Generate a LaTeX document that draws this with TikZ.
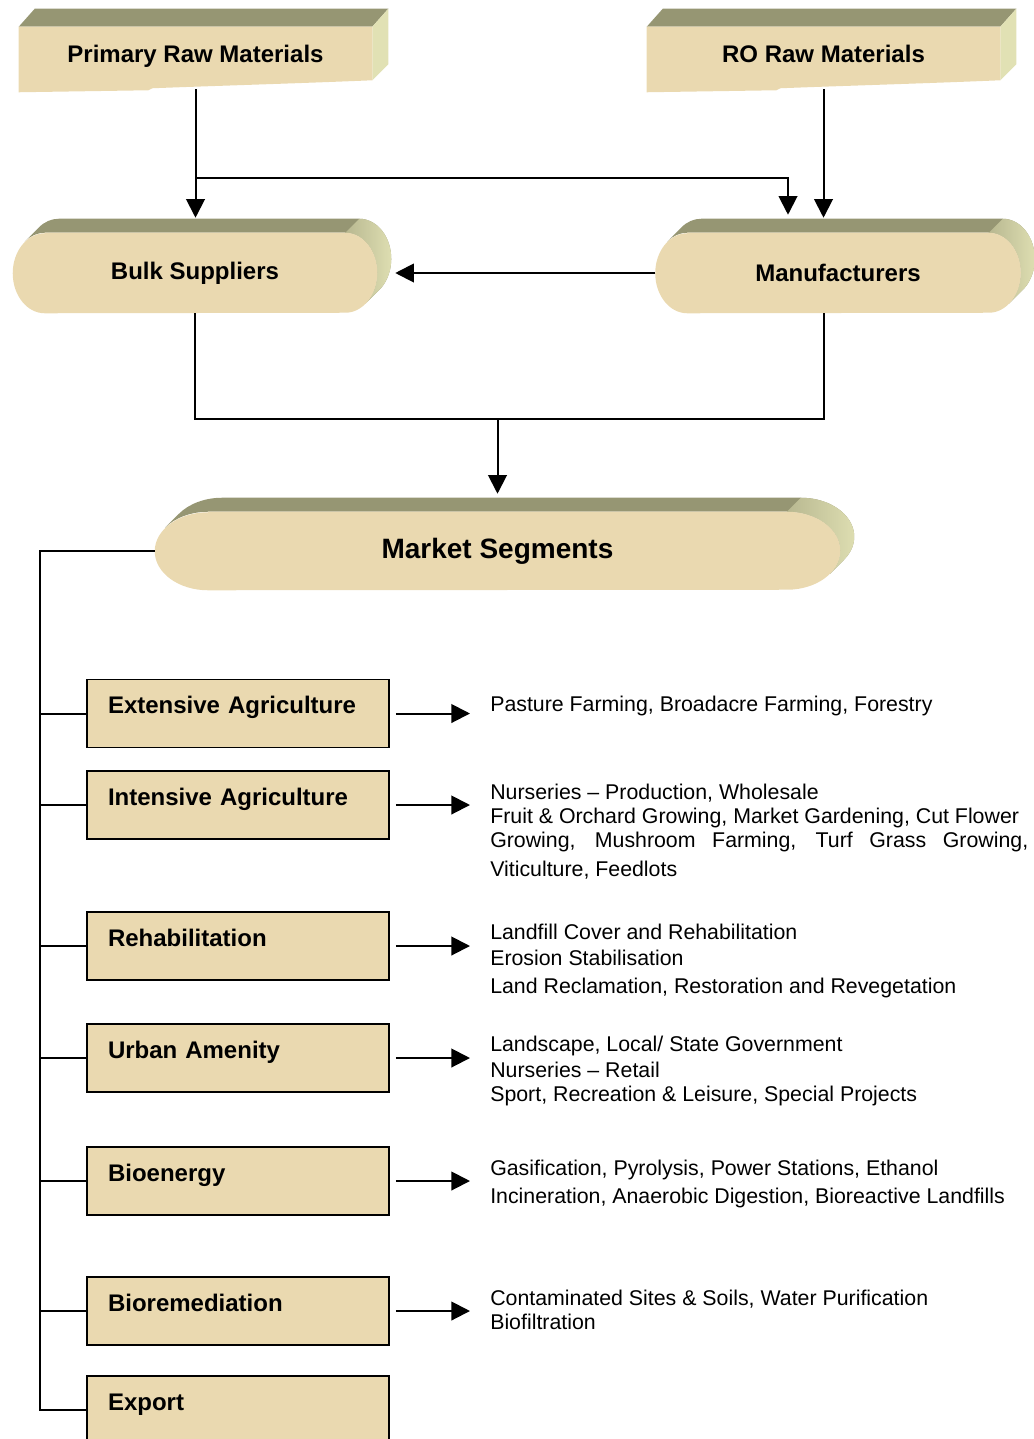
\documentclass[tikz,border=0pt]{standalone}
\usepackage{fontspec}
\setmainfont{Liberation Sans}
\usetikzlibrary{arrows.meta,calc,positioning,backgrounds}

\definecolor{sand}{RGB}{234,217,176}
\definecolor{ridgetop}{RGB}{150,150,115}
\definecolor{ridgeside}{RGB}{225,225,180}

\tikzset{
  block/.style={inner sep=0pt, text depth=0pt, font=\fontsize{18}{21}\selectfont\bfseries},
  scroll/.style={inner sep=0pt, font=\fontsize{18}{21}\selectfont\bfseries},
  segment/.style={draw, line width=1.3pt, fill=sand, text width=195pt, align=left,
    inner xsep=15.75pt, inner ysep=0pt, text height=25.5pt, text depth=25.5pt,
    font=\fontsize{18}{21}\selectfont\bfseries},
  uses/.style={anchor=north west, inner sep=0pt, align=left,
    font=\fontsize{16}{18}\selectfont},
  link/.style={line width=1.5pt},
  arr/.style={link, -{Triangle[width=14pt,length=14pt]}},
}

% box with a raised top, a side face and a torn lower edge
\newcommand{\blockshape}[1]{%
  \begin{scope}[on background layer]
    \fill[ridgetop] (#1.north west) -- ++(16,18) -- ([shift={(16,18)}]#1.north east)
      -- (#1.north east) -- cycle;
    \fill[ridgeside] (#1.north east) -- ++(16,18) -- ([shift={(16,16)}]#1.south east)
      -- (#1.south east) -- cycle;
    \fill[sand] (#1.north west) -- (#1.north east) -- (#1.south east)
      .. controls ([shift={(-70,-3)}]#1.south east) and ([shift={(-170,-6)}]#1.south east)
      .. ([shift={(-220,-8)}]#1.south east) -- ([shift={(-224,-10)}]#1.south east)
      -- ([shift={(0,-12)}]#1.south west) -- cycle;
  \end{scope}}

% rounded slab: #2 = x radius, #3 = y radius of the ends
\newcommand{\scrollshape}[3]{%
  \pgfmathsetmacro{\ridgeang}{atan(#3/#2)}
  \begin{scope}[on background layer]
    \fill[ridgetop] ([shift={({#2+#2*cos(180-\ridgeang)},{-#3+#3*sin(180-\ridgeang)})}]#1.north west)
      arc[start angle=180-\ridgeang, end angle=90, x radius=#2, y radius=#3]
      -- ([shift={(-#2,0)}]#1.north east)
      arc[start angle=90, end angle=-\ridgeang, x radius=#2, y radius=#3]
      -- ++(14,14)
      arc[start angle=-\ridgeang, end angle=90, x radius=#2, y radius=#3]
      -- ([shift={(#2,0)}]$(#1.north west)+(14,14)$)
      arc[start angle=90, end angle=180-\ridgeang, x radius=#2, y radius=#3]
      -- cycle;
    \shade[left color=ridgetop!55!ridgeside, right color=ridgeside]
      ([shift={(-#2,0)}]#1.north east)
      arc[start angle=90, end angle=-\ridgeang, x radius=#2, y radius=#3]
      -- ++(14,14)
      arc[start angle=-\ridgeang, end angle=90, x radius=#2, y radius=#3] -- cycle;
    \fill[sand] ([shift={(#2,0)}]#1.north west) -- ([shift={(-#2,0)}]#1.north east)
      arc[start angle=90, end angle=-90, x radius=#2, y radius=#3]
      -- ([shift={(#2,0)}]#1.south west)
      arc[start angle=270, end angle=90, x radius=#2, y radius=#3] -- cycle;
  \end{scope}}

\begin{document}
\begin{tikzpicture}[x=0.75pt,y=0.75pt]
  \useasboundingbox (0,0) rectangle (1034,-1439);
  % supply side
  \node (prim) at (195.5,-53.5) [block, minimum width=264.75pt, minimum height=39.75pt] {Primary Raw Materials};
  \node (ro) at (823.5,-53.5) [block, minimum width=264.75pt, minimum height=39.75pt] {RO Raw Materials};
  \node (bulk) at (195,-273) [scroll, minimum width=273pt, minimum height=60pt] {Bulk Suppliers};
  \node (manu) at (838,-273) [scroll, minimum width=273.75pt, minimum height=60pt] {Manufacturers};
  \node (market) at (497.5,-551) [scroll, minimum width=513.75pt, minimum height=58.5pt,
    font=\fontsize{21}{24}\selectfont\bfseries] {Market Segments};
  \blockshape{prim}
  \blockshape{ro}
  \scrollshape{bulk}{24pt}{30pt}
  \scrollshape{manu}{24pt}{30pt}
  \scrollshape{market}{40pt}{29.25pt}

  % market segments
  \node (ext) at (238,-713.5) [segment] {Extensive Agriculture};
  \node (int) at (238,-805) [segment] {Intensive Agriculture};
  \node (rehab) at (238,-946) [segment] {Rehabilitation};
  \node (urban) at (238,-1058) [segment] {Urban Amenity};
  \node (bioen) at (238,-1181) [segment] {Bioenergy};
  \node (biorem) at (238,-1311) [segment] {Bioremediation};
  \node (export) at (238,-1410) [segment] {Export};

  % end uses
  \node (ext-uses) at (490,-695.5) [uses] {Pasture Farming, Broadacre Farming, Forestry};
  \node (int-uses) at (490,-783.5) [uses] {Nurseries – Production, Wholesale\\
    Fruit \& Orchard Growing, Market Gardening, Cut Flower\\
    \makebox[403.5pt][s]{Growing, Mushroom Farming, Turf Grass Growing,}\\[3.75pt]
    Viticulture, Feedlots};
  \node (rehab-uses) at (490,-923.5) [uses] {Landfill Cover and Rehabilitation\\[1.5pt]
    Erosion Stabilisation\\[3pt]
    Land Reclamation, Restoration and Revegetation};
  \node (urban-uses) at (490,-1035.5) [uses] {Landscape, Local/ State Government\\[1.5pt]
    Nurseries – Retail\\
    Sport, Recreation \& Leisure, Special Projects};
  \node (bioen-uses) at (490,-1159.5) [uses] {Gasification, Pyrolysis, Power Stations, Ethanol\\[3pt]
    Incineration, Anaerobic Digestion, Bioreactive Landfills};
  \node (biorem-uses) at (490,-1289.5) [uses] {Contaminated Sites \& Soils, Water Purification\\
    Biofiltration};

  % connectors
  \coordinate (fork) at (195.5,-178);
  \coordinate (merge) at (497.5,-419);
  \coordinate (spine) at (40,0);
  \draw[arr, shorten <=6.75pt, shorten >=11.25pt] (prim.south) -- (prim.south |- bulk.north);
  \draw[arr, shorten >=13.5pt] (fork) -| ($(manu.north)+(-50,0)$);
  \draw[arr, shorten <=6.75pt, shorten >=11.25pt] (ro.south) -- (ro.south |- manu.north);
  \draw[arr, shorten >=13.5pt] (manu.west) -- (bulk.east);
  \draw[link] (bulk.south) |- (merge) -| (ro.south |- manu.south);
  \draw[arr, shorten >=13.5pt] (merge) -- (market.north);
  \draw[link] (market.west) -| (spine |- export.west) -- (export.west);
  \foreach \s in {ext,int,rehab,urban,bioen,biorem}{
    \draw[link] (spine |- \s.west) -- (\s.west);
    \draw[arr, shorten <=4.5pt, shorten >=15pt] (\s.east) -- (\s.east -| \s-uses.west);
  }
\end{tikzpicture}
\end{document}
